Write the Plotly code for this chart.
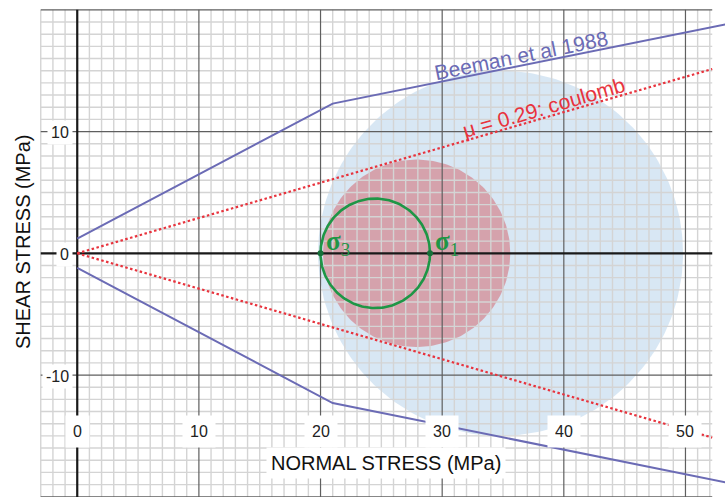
import numpy as np
import plotly.graph_objects as go

# --- data -------------------------------------------------------------
# Beeman et al. (1988) friction envelope (normal stress, shear stress)
beeman_sigma = [0.0, 21.0, 53.5]
beeman_tau = [1.2, 12.3, 18.85]

# Coulomb criterion with friction coefficient mu
mu = 0.29
coulomb_sigma = [0.0, 52.2]

# Mohr circles: centre and radius (MPa)
outer_center, outer_radius = 34.8, 15.0
mid_center, mid_radius = 27.9, 7.7
sigma3, sigma1 = 20.0, 29.0

# axis tick labels
x_ticks = [0, 10, 20, 30, 40, 50]
y_ticks = [10, 0, -10]

# --- view -------------------------------------------------------------
X_RANGE = [-6.35, 53.25]
Y_RANGE = [-20.02, 20.81]
GRID_X = [-3, 52.2]
GRID_Y = [-20, 20]

FONT = "Liberation Sans, Arial, sans-serif"
PURPLE = "#6b6bb5"
RED = "#e8333d"
GREEN = "#1e9646"

fig = go.Figure()


def circle(cx, r, n=240):
    t = np.linspace(0, 2 * np.pi, n)
    return cx + r * np.cos(t), r * np.sin(t)


# filled Mohr circles (semi-transparent, beneath the grid)
ox, oy = circle(outer_center, outer_radius)
fig.add_trace(go.Scatter(x=ox, y=oy, mode="lines", fill="toself",
                         fillcolor="rgba(100,160,210,0.25)",
                         line=dict(width=0), hoverinfo="skip"))
mx, my = circle(mid_center, mid_radius)
fig.add_trace(go.Scatter(x=mx, y=my, mode="lines", fill="toself",
                         fillcolor="rgba(210,60,65,0.4)",
                         line=dict(width=0), hoverinfo="skip"))


# grid lines
def segs(vals, vertical, lo, hi):
    xs, ys = [], []
    for v in vals:
        if vertical:
            xs += [v, v, None]
            ys += [lo, hi, None]
        else:
            xs += [lo, hi, None]
            ys += [v, v, None]
    return xs, ys


minor_x = [v for v in range(-3, 53) if v % 10 != 0]
minor_y = [v for v in range(-20, 21) if v % 10 != 0]
major_x = [v for v in range(-3, 53) if v % 10 == 0 and v != 0]
major_y = [v for v in range(-20, 21) if v % 10 == 0 and v != 0]

for vals, vert, lo, hi, col, w in [
    (minor_x, True, -21, GRID_Y[1], "rgb(212,212,212)", 1.4),
    (minor_y, False, GRID_X[0], GRID_X[1], "rgb(212,212,212)", 1.4),
    (major_x, True, -21, GRID_Y[1], "rgb(95,95,95)", 1.2),
    (major_y, False, GRID_X[0], GRID_X[1], "rgb(95,95,95)", 1.2),
    ([0], True, -21, GRID_Y[1], "rgb(25,25,25)", 2.2),
    ([0], False, GRID_X[0], GRID_X[1], "rgb(25,25,25)", 2.2),
]:
    gx, gy = segs(vals, vert, lo, hi)
    fig.add_trace(go.Scatter(x=gx, y=gy, mode="lines",
                             line=dict(color=col, width=w),
                             hoverinfo="skip"))

# Beeman envelope, upper and lower branches
fig.add_trace(go.Scatter(x=beeman_sigma, y=beeman_tau, mode="lines",
                         line=dict(color=PURPLE, width=2)))
fig.add_trace(go.Scatter(x=beeman_sigma, y=[-t for t in beeman_tau],
                         mode="lines", line=dict(color=PURPLE, width=2)))

# Coulomb lines
coulomb_tau = [mu * s for s in coulomb_sigma]
for sign in (1, -1):
    fig.add_trace(go.Scatter(x=coulomb_sigma,
                             y=[sign * t for t in coulomb_tau],
                             mode="lines",
                             line=dict(color=RED, width=2.2,
                                       dash="2.5px,2.5px")))

# small Mohr circle and principal stresses
sc = (sigma1 + sigma3) / 2
sr = (sigma1 - sigma3) / 2
gx, gy = circle(sc, sr)
fig.add_trace(go.Scatter(x=gx, y=gy, mode="lines",
                         line=dict(color=GREEN, width=2.6)))
fig.add_trace(go.Scatter(x=[sigma3, sigma1], y=[0, 0], mode="markers",
                         marker=dict(color="#17703a", size=6)))

annotations = []
# tick labels
for v in x_ticks:
    annotations.append(dict(x=v, y=-14.6, text=str(v), showarrow=False,
                            font=dict(family=FONT, size=16, color="#222"),
                            bgcolor="white", borderpad=7,
                            xanchor="center", yanchor="middle"))
for v in y_ticks:
    annotations.append(dict(x=-0.35, y=v - 0.1, text=str(v), showarrow=False,
                            font=dict(family=FONT, size=16, color="#222"),
                            bgcolor="white", borderpad=3,
                            xanchor="right", yanchor="middle"))

# axis titles
annotations.append(dict(x=25.4, y=-17.2, text="NORMAL STRESS (MPa)",
                        showarrow=False, bgcolor="white", borderpad=4,
                        font=dict(family=FONT, size=20, color="#111"),
                        xanchor="center", yanchor="middle"))
annotations.append(dict(xref="paper", yref="paper", x=23 / 725,
                        y=1 - 242 / 497, text="SHEAR STRESS (MPa)",
                        textangle=-90, showarrow=False,
                        font=dict(family=FONT, size=20, color="#111"),
                        xanchor="center", yanchor="middle"))

# curve labels
annotations.append(dict(x=36.46, y=16.29, text="Beeman et al 1988",
                        textangle=-11.5, showarrow=False,
                        font=dict(family=FONT, size=21, color=PURPLE),
                        xanchor="center", yanchor="middle"))
annotations.append(dict(x=38.35, y=11.94, text="\u03bc = 0.29: coulomb",
                        textangle=-16.2, showarrow=False,
                        font=dict(family=FONT, size=21, color=RED),
                        xanchor="center", yanchor="middle"))

for s, lab in [(sigma3, "3"), (sigma1, "1")]:
    annotations.append(dict(x=s + 0.25, y=0.85,
                            text="<b>\u03c3</b><sub>" + lab + "</sub>",
                            showarrow=False,
                            font=dict(family="Liberation Serif, serif",
                                      size=27, color=GREEN),
                            xanchor="left", yanchor="middle"))

fig.update_layout(
    width=725, height=497,
    margin=dict(l=0, r=0, t=0, b=0),
    paper_bgcolor="white", plot_bgcolor="white",
    showlegend=False,
    xaxis=dict(range=X_RANGE, showgrid=False, zeroline=False,
               showticklabels=False, ticks="", fixedrange=True),
    yaxis=dict(range=Y_RANGE, showgrid=False, zeroline=False,
               showticklabels=False, ticks="", fixedrange=True),
    annotations=annotations,
)

fig.write_html("out.html", config={"displayModeBar": False})
